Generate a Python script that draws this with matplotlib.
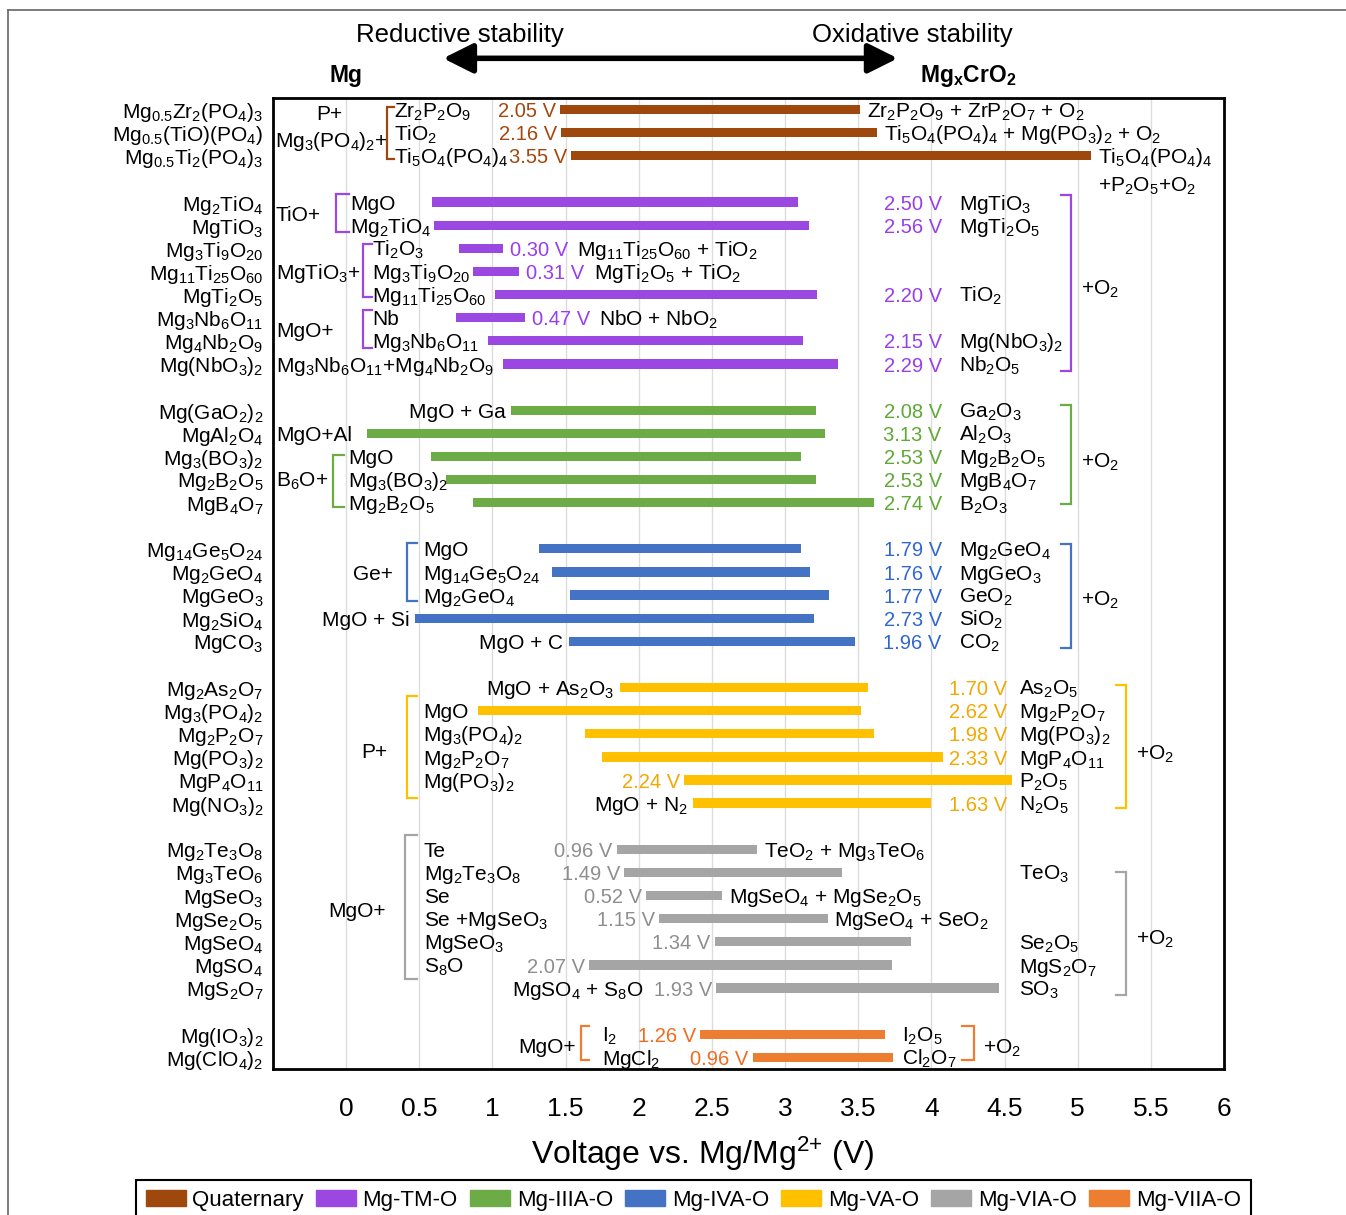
import numpy as np
import matplotlib
matplotlib.use("Agg")
import matplotlib.pyplot as plt
from matplotlib.patches import Patch
from matplotlib.lines import Line2D

plt.rcParams.update({
    "font.family": ["Liberation Sans", "DejaVu Sans"],
    "mathtext.fontset": "custom",
    "mathtext.rm": "Liberation Sans",
    "mathtext.it": "Liberation Sans:italic",
    "mathtext.bf": "Liberation Sans:bold",
    "mathtext.sf": "Liberation Sans",
})

# ---------------------------------------------------------------- data
families = ["Quaternary", "Mg-TM-O", "Mg-IIIA-O", "Mg-IVA-O",
            "Mg-VA-O", "Mg-VIA-O", "Mg-VIIA-O"]
bar_colors = ["#9E480E", "#9B48E2", "#6CAB45", "#4472C4",
              "#FFC000", "#A5A5A5", "#ED7D31"]
text_colors = ["#A4470E", "#9A3DEB", "#5FA835", "#2F66D0",
               "#F2A800", "#8E8E8E", "#F26B1D"]

compounds = [
    "Mg$_{0.5}$Zr$_2$(PO$_4$)$_3$", "Mg$_{0.5}$(TiO)(PO$_4$)", "Mg$_{0.5}$Ti$_2$(PO$_4$)$_3$",
    "Mg$_2$TiO$_4$", "MgTiO$_3$", "Mg$_3$Ti$_9$O$_{20}$", "Mg$_{11}$Ti$_{25}$O$_{60}$",
    "MgTi$_2$O$_5$", "Mg$_3$Nb$_6$O$_{11}$", "Mg$_4$Nb$_2$O$_9$", "Mg(NbO$_3$)$_2$",
    "Mg(GaO$_2$)$_2$", "MgAl$_2$O$_4$", "Mg$_3$(BO$_3$)$_2$", "Mg$_2$B$_2$O$_5$", "MgB$_4$O$_7$",
    "Mg$_{14}$Ge$_5$O$_{24}$", "Mg$_2$GeO$_4$", "MgGeO$_3$", "Mg$_2$SiO$_4$", "MgCO$_3$",
    "Mg$_2$As$_2$O$_7$", "Mg$_3$(PO$_4$)$_2$", "Mg$_2$P$_2$O$_7$", "Mg(PO$_3$)$_2$",
    "MgP$_4$O$_{11}$", "Mg(NO$_3$)$_2$",
    "Mg$_2$Te$_3$O$_8$", "Mg$_3$TeO$_6$", "MgSeO$_3$", "MgSe$_2$O$_5$", "MgSeO$_4$",
    "MgSO$_4$", "MgS$_2$O$_7$",
    "Mg(IO$_3$)$_2$", "Mg(ClO$_4$)$_2$",
]
family = [0] * 3 + [1] * 8 + [2] * 5 + [3] * 5 + [4] * 6 + [5] * 7 + [6] * 2

# reduction onset (V) and width of the stability window (V)
onset = [1.46, 1.47, 1.54,
         0.59, 0.60, 0.77, 0.87, 1.02, 0.75, 0.97, 1.07,
         1.13, 0.14, 0.58, 0.68, 0.87,
         1.32, 1.41, 1.53, 0.47, 1.52,
         1.87, 0.90, 1.63, 1.75, 2.31, 2.37,
         1.85, 1.90, 2.05, 2.14, 2.52, 1.66, 2.53,
         2.42, 2.78]
window = [2.05, 2.16, 3.55,
          2.50, 2.56, 0.30, 0.31, 2.20, 0.47, 2.15, 2.29,
          2.08, 3.13, 2.53, 2.53, 2.74,
          1.79, 1.76, 1.77, 2.73, 1.96,
          1.70, 2.62, 1.98, 2.33, 2.24, 1.63,
          0.96, 1.49, 0.52, 1.15, 1.34, 2.07, 1.93,
          1.26, 0.96]

voltage_ticks = np.arange(0, 6.01, 0.5)

# ---------------------------------------------------------------- layout
# one empty row between families
slot = []
pos = 0
for k, f in enumerate(family):
    if k > 0 and f != family[k - 1]:
        pos += 1
    slot.append(pos)
    pos += 1
slot = np.array(slot, dtype=float)
onset = np.array(onset)
window = np.array(window)
end = onset + window

FS = 15.0     # labels
FSV = 14.5    # voltage-window values
BASE = 0.33   # baseline offset (in rows) that centres capitals on a row

fig = plt.figure(figsize=(13.46, 12.15), dpi=100)
ax = fig.add_axes([0.2028, 0.1202, 0.7066, 0.7991])
ax.set_xlim(-0.5, 6)
ax.set_ylim(41.5, -0.5)

ax.barh(slot, window, left=onset, height=0.40,
        color=[bar_colors[f] for f in family], zorder=3)

ax.set_xticks(voltage_ticks)
ax.set_xticklabels([f"{v:g}" for v in voltage_ticks], fontsize=19)
ax.grid(axis="x", color="#DCDCDC", lw=1.0, zorder=0)
ax.set_axisbelow(True)
ax.set_yticks(slot)
ax.set_yticklabels(compounds, fontsize=FS)
ax.tick_params(axis="x", length=0, pad=20)
ax.tick_params(axis="y", length=0, pad=7)
for sp in ax.spines.values():
    sp.set_linewidth(2.0)
    sp.set_color("black")
ax.set_xlabel("Voltage vs. Mg/Mg$^{2{+}}$ (V)", fontsize=23, labelpad=9)
ax.xaxis.set_label_coords(0.452, -0.068)


def put(x, y, s, ha="left", color="black", dx=0, size=FS):
    return ax.annotate(s, (x, y + BASE), xytext=(dx, 0), textcoords="offset points",
                       ha=ha, va="baseline", color=color, fontsize=size,
                       annotation_clip=False, zorder=4)


def beside(artist, y, s, side="right", gap=6, color="black"):
    if side == "right":
        return ax.annotate(s, (1, y + BASE), xycoords=(artist, "data"),
                           xytext=(gap, 0), textcoords="offset points",
                           ha="left", va="baseline", color=color, fontsize=FS,
                           annotation_clip=False)
    return ax.annotate(s, (0, y + BASE), xycoords=(artist, "data"),
                       xytext=(-gap, 0), textcoords="offset points",
                       ha="right", va="baseline", color=color, fontsize=FS,
                       annotation_clip=False)


def vlabel(i):
    return f"{window[i]:.2f} V"


def value_left(i):
    return put(onset[i], slot[i], vlabel(i), ha="right", dx=-3,
               color=text_colors[family[i]], size=FSV)


def value_right(i):
    return put(end[i], slot[i], vlabel(i), ha="left", dx=5,
               color=text_colors[family[i]], size=FSV)


def value_col(i, x):
    return put(x, slot[i], vlabel(i), ha="right", color=text_colors[family[i]], size=FSV)


def after_bar(i, s):
    return put(end[i], slot[i], s, ha="left", dx=5)


def before_bar(i, s):
    return put(onset[i], slot[i], s, ha="right", dx=-4)


def bracket(x, y0, y1, color, tick=0.06, closing=False):
    d = -tick if closing else tick
    ax.plot([x + d, x, x, x + d], [y0, y0, y1, y1], color=color, lw=1.6,
            solid_joinstyle="miter", clip_on=False, zorder=4)


# ---------------------------------------------------------------- Quaternary
c = bar_colors[0]
put(-0.116, 0.13, "P+", ha="center")
put(-0.485, 1.3, "Mg$_3$(PO$_4$)$_2$+")
bracket(0.28, -0.13, 2.12, c, tick=0.05)
for i, s in zip([0, 1, 2], ["Zr$_2$P$_2$O$_9$", "TiO$_2$", "Ti$_5$O$_4$(PO$_4$)$_4$"]):
    put(0.325, slot[i], s)
    value_left(i)
after_bar(0, "Zr$_2$P$_2$O$_9$ + ZrP$_2$O$_7$ + O$_2$")
after_bar(1, "Ti$_5$O$_4$(PO$_4$)$_4$ + Mg(PO$_3$)$_2$ + O$_2$")
after_bar(2, "Ti$_5$O$_4$(PO$_4$)$_4$")
put(end[2], 3.22, "+P$_2$O$_5$+O$_2$", dx=5)

# ---------------------------------------------------------------- Mg-TM-O
c = bar_colors[1]
put(-0.48, 4.5, "TiO+")
bracket(-0.068, 3.63, 5.3, c, tick=0.085)
put(0.025, slot[3], "MgO")
put(0.025, slot[4], "Mg$_2$TiO$_4$")
put(-0.48, 7.0, "MgTiO$_3$+")
bracket(0.116, 5.8, 8.1, c, tick=0.06)
put(0.18, slot[5], "Ti$_2$O$_3$")
put(0.18, slot[6], "Mg$_3$Ti$_9$O$_{20}$")
put(0.18, slot[7], "Mg$_{11}$Ti$_{25}$O$_{60}$")
put(-0.48, 9.5, "MgO+")
bracket(0.116, 8.65, 10.3, c, tick=0.06)
put(0.18, slot[8], "Nb")
put(0.18, slot[9], "Mg$_3$Nb$_6$O$_{11}$")
put(-0.48, slot[10], "Mg$_3$Nb$_6$O$_{11}$+Mg$_4$Nb$_2$O$_9$")
for i, s in zip([3, 4, 7, 9, 10],
                ["MgTiO$_3$", "MgTi$_2$O$_5$", "TiO$_2$", "Mg(NbO$_3$)$_2$", "Nb$_2$O$_5$"]):
    value_col(i, 4.07)
    put(4.19, slot[i], s)
for i, s in zip([5, 6, 8],
                ["Mg$_{11}$Ti$_{25}$O$_{60}$ + TiO$_2$", "MgTi$_2$O$_5$ + TiO$_2$",
                 "NbO + NbO$_2$"]):
    t = value_right(i)
    beside(t, slot[i], s, gap=7)
bracket(4.955, 3.68, 11.29, c, tick=0.07, closing=True)
put(5.02, 7.66, "+O$_2$")

# ---------------------------------------------------------------- Mg-IIIA-O
c = bar_colors[2]
before_bar(11, "MgO + Ga")
put(-0.48, slot[12], "MgO+Al")
put(-0.48, slot[14], "B$_6$O+")
bracket(-0.092, 14.95, 17.17, c, tick=0.075)
put(0.014, slot[13], "MgO")
put(0.014, slot[14], "Mg$_3$(BO$_3$)$_2$")
put(0.014, slot[15], "Mg$_2$B$_2$O$_5$")
for i, s in zip(range(11, 16),
                ["Ga$_2$O$_3$", "Al$_2$O$_3$", "Mg$_2$B$_2$O$_5$", "MgB$_4$O$_7$", "B$_2$O$_3$"]):
    value_col(i, 4.07)
    put(4.19, slot[i], s)
bracket(4.955, 12.76, 17.04, c, tick=0.07, closing=True)
put(5.02, 15.14, "+O$_2$")

# ---------------------------------------------------------------- Mg-IVA-O
c = bar_colors[3]
put(0.185, slot[17], "Ge+", ha="center")
bracket(0.414, 18.73, 21.24, c, tick=0.07)
put(0.527, slot[16], "MgO")
put(0.527, slot[17], "Mg$_{14}$Ge$_5$O$_{24}$")
put(0.527, slot[18], "Mg$_2$GeO$_4$")
before_bar(19, "MgO + Si")
before_bar(20, "MgO + C")
for i, s in zip(range(16, 21),
                ["Mg$_2$GeO$_4$", "MgGeO$_3$", "GeO$_2$", "SiO$_2$", "CO$_2$"]):
    value_col(i, 4.07)
    put(4.19, slot[i], s)
bracket(4.955, 18.8, 23.27, c, tick=0.07, closing=True)
put(5.02, 21.15, "+O$_2$")

# ---------------------------------------------------------------- Mg-VA-O
c = bar_colors[4]
before_bar(21, "MgO + As$_2$O$_3$")
put(0.19, 27.7, "P+", ha="center")
bracket(0.414, 25.35, 29.8, c, tick=0.07)
for i, s in zip([22, 23, 24, 25],
                ["MgO", "Mg$_3$(PO$_4$)$_2$", "Mg$_2$P$_2$O$_7$", "Mg(PO$_3$)$_2$"]):
    put(0.527, slot[i], s)
before_bar(26, "MgO + N$_2$")
for i in [21, 22, 23, 24, 26]:
    value_col(i, 4.52)
value_left(25)
for i, s in zip(range(21, 27),
                ["As$_2$O$_5$", "Mg$_2$P$_2$O$_7$", "Mg(PO$_3$)$_2$", "MgP$_4$O$_{11}$",
                 "P$_2$O$_5$", "N$_2$O$_5$"]):
    put(4.60, slot[i], s)
bracket(5.33, 24.87, 30.19, c, tick=0.07, closing=True)
put(5.40, 27.8, "+O$_2$")

# ---------------------------------------------------------------- Mg-VIA-O
c = bar_colors[5]
put(0.075, 34.6, "MgO+", ha="center")
bracket(0.40, 31.36, 37.63, c, tick=0.085)
for i, s in zip(range(27, 33),
                ["Te", "Mg$_2$Te$_3$O$_8$", "Se", "Se +MgSeO$_3$", "MgSeO$_3$", "S$_8$O"]):
    put(0.53, slot[i], s)
for i in range(27, 34):
    t = value_left(i)
    if i == 33:
        beside(t, slot[i], "MgSO$_4$ + S$_8$O", side="left", gap=7)
after_bar(27, "TeO$_2$ + Mg$_3$TeO$_6$")
after_bar(29, "MgSeO$_4$ + MgSe$_2$O$_5$")
after_bar(30, "MgSeO$_4$ + SeO$_2$")
for i, s in zip([28, 31, 32, 33], ["TeO$_3$", "Se$_2$O$_5$", "MgS$_2$O$_7$", "SO$_3$"]):
    put(4.60, slot[i], s)
bracket(5.33, 32.96, 38.28, c, tick=0.07, closing=True)
put(5.40, 35.8, "+O$_2$")

# ---------------------------------------------------------------- Mg-VIIA-O
c = bar_colors[6]
put(1.566, 40.5, "MgO+", ha="right")
bracket(1.607, 39.66, 41.13, c, tick=0.05)
put(1.75, slot[34], "I$_2$")
put(1.75, slot[35], "MgCl$_2$")
value_left(34)
value_left(35)
put(3.80, slot[34], "I$_2$O$_5$")
put(3.80, slot[35], "Cl$_2$O$_7$")
bracket(4.29, 39.66, 41.1, c, tick=0.08, closing=True)
put(4.35, 40.5, "+O$_2$")

# ---------------------------------------------------------------- header
hdr = ("data", "figure fraction")
ax.annotate("Reductive stability", (0.78, 0.971), xycoords=hdr,
            ha="center", va="center", fontsize=18.5, annotation_clip=False)
ax.annotate("Oxidative stability", (3.87, 0.971), xycoords=hdr,
            ha="center", va="center", fontsize=18.5, annotation_clip=False)
ax.annotate("", xy=(3.77, 0.952), xytext=(0.663, 0.952), xycoords=hdr, textcoords=hdr,
            arrowprops=dict(arrowstyle="<|-|>,head_length=0.9,head_width=0.45",
                            lw=4, color="black", shrinkA=0, shrinkB=0,
                            mutation_scale=20),
            annotation_clip=False)
ax.annotate("Mg", (0.0, 0.9375), xycoords=hdr, ha="center", va="center",
            fontsize=16.5, fontweight="bold", annotation_clip=False)
ax.annotate(r"Mg$_\mathbf{x}$CrO$_\mathbf{2}$", (4.25, 0.9375), xycoords=hdr,
            ha="center", va="center", fontsize=16.5, fontweight="bold",
            annotation_clip=False)

# ---------------------------------------------------------------- legend
handles = [Patch(facecolor=bc, edgecolor=bc) for bc in bar_colors]
leg = fig.legend(handles, families, loc="upper center", ncol=7,
                 bbox_to_anchor=(0.515, 1 - 1180 / 1215), fontsize=16,
                 frameon=True, fancybox=False, edgecolor="black", framealpha=1,
                 handlelength=1.8, handleheight=0.7, handletextpad=0.3,
                 columnspacing=0.55, borderpad=0.45, borderaxespad=0)
leg.get_frame().set_linewidth(1.5)

# outer border
fig.add_artist(Line2D([8 / 1346, 1.0], [1 - 10 / 1215, 1 - 10 / 1215],
                      color="#666666", lw=1.2, transform=fig.transFigure))
fig.add_artist(Line2D([8 / 1346, 8 / 1346], [0.0, 1 - 10 / 1215],
                      color="#666666", lw=1.2, transform=fig.transFigure))

fig.savefig("out.png", dpi=100)
